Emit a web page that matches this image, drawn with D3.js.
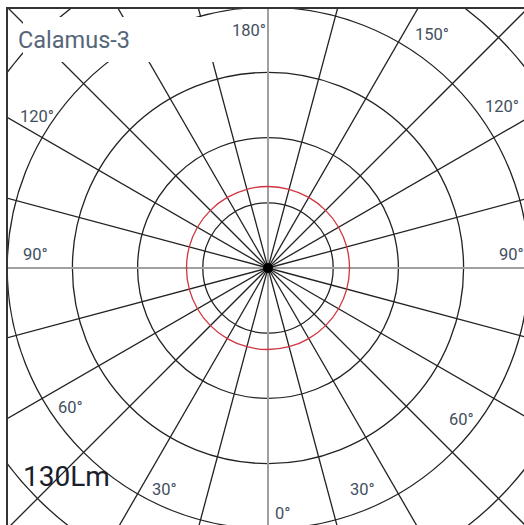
<!DOCTYPE html>
<html>
<head>
<meta charset="utf-8">
<script src="https://cdn.jsdelivr.net/npm/d3@7"></script>
<style>
  body { margin: 0; background: #fff; }
  svg { display: block; }
</style>
</head>
<body>
<div id="chart"></div>
<script>
// chart values
const title = "Calamus-3";
const fluxLabel = "130Lm";
const ringValues = [1, 2, 3, 4, 5];
const spokeAngles = d3.range(0, 360, 15);
const angleLabels = ["0°", "30°", "30°", "60°", "60°", "90°", "90°", "120°", "120°", "150°", "180°"];
// intensity trace, every 15 degrees (uniform)
const traceAngles = [0, 15, 30, 45, 60, 75, 90, 105, 120, 135, 150, 165, 180, 195, 210, 225, 240, 255, 270, 285, 300, 315, 330, 345];
const traceValues = [1.25, 1.25, 1.25, 1.25, 1.25, 1.25, 1.25, 1.25, 1.25, 1.25, 1.25, 1.25, 1.25, 1.25, 1.25, 1.25, 1.25, 1.25, 1.25, 1.25, 1.25, 1.25, 1.25, 1.25];

// layout
const width = 524, height = 525;
const cx = 268, cy = 268;
// where each angle label sits (left x, baseline y), in label order
const labelPos = [[275, 519], [152, 495], [350, 495], [58, 413], [449, 425], [23, 260], [499, 260], [20, 122], [485, 112], [415, 40], [232, 36]];

const svg = d3.select("#chart").append("svg")
    .attr("width", width)
    .attr("height", height);

svg.append("defs").append("clipPath")
    .attr("id", "plotclip")
    .append("rect")
    .attr("x", 7).attr("y", 8)
    .attr("width", width - 7).attr("height", height - 8);

const r = d3.scaleLinear().domain([0, 5]).range([0, 326]);

const plot = svg.append("g")
    .attr("clip-path", "url(#plotclip)")
    .append("g")
    .attr("transform", `translate(${cx},${cy})`);

// rings
plot.selectAll("circle.ring")
    .data(ringValues)
    .enter()
    .append("circle")
    .attr("class", "ring")
    .attr("r", d => r(d))
    .attr("fill", "none")
    .attr("stroke", "#222")
    .attr("stroke-width", 1.3);

// spokes (0 deg points down)
const reach = 420;
plot.selectAll("line.spoke")
    .data(spokeAngles)
    .enter()
    .append("line")
    .attr("class", "spoke")
    .attr("x1", 0).attr("y1", 0)
    .attr("x2", d => reach * Math.sin(d * Math.PI / 180))
    .attr("y2", d => reach * Math.cos(d * Math.PI / 180))
    .attr("stroke", d => d % 90 === 0 ? "#a0a0a0" : "#222")
    .attr("stroke-width", d => d % 90 === 0 ? 2 : 1.3);

// intensity trace
const trace = d3.lineRadial()
    .angle(d => Math.PI - d[0] * Math.PI / 180)
    .radius(d => r(d[1]))
    .curve(d3.curveCatmullRomClosed);

plot.append("path")
    .datum(traceAngles.map((a, i) => [a, traceValues[i]]))
    .attr("d", trace)
    .attr("fill", "none")
    .attr("stroke", "#d0343f")
    .attr("stroke-width", 1.3);

plot.append("circle")
    .attr("r", 5)
    .attr("fill", "#000");

// white patch behind the title
svg.append("rect")
    .attr("x", 23).attr("y", 17)
    .attr("width", 217).attr("height", 45)
    .attr("fill", "#fff");

// frame (left and top)
svg.append("path")
    .attr("d", `M7,${height} V8 H${width}`)
    .attr("fill", "none")
    .attr("stroke", "#333")
    .attr("stroke-width", 2);

svg.append("text")
    .attr("x", 18).attr("y", 48)
    .style("font-family", "Roboto, sans-serif")
    .style("font-size", "23.5px")
    .style("fill", "#566678")
    .text(title);

svg.selectAll("text.deg")
    .data(angleLabels)
    .enter()
    .append("text")
    .attr("class", "deg")
    .attr("x", (d, i) => labelPos[i][0])
    .attr("y", (d, i) => labelPos[i][1])
    .style("font-family", "Roboto, sans-serif")
    .style("font-size", "16.5px")
    .style("fill", "#434f5e")
    .text(d => d);

svg.append("text")
    .attr("x", 23).attr("y", 486)
    .style("font-family", "Roboto, sans-serif")
    .style("font-size", "28px")
    .style("fill", "#1a202b")
    .text(fluxLabel);
</script>
</body>
</html>
